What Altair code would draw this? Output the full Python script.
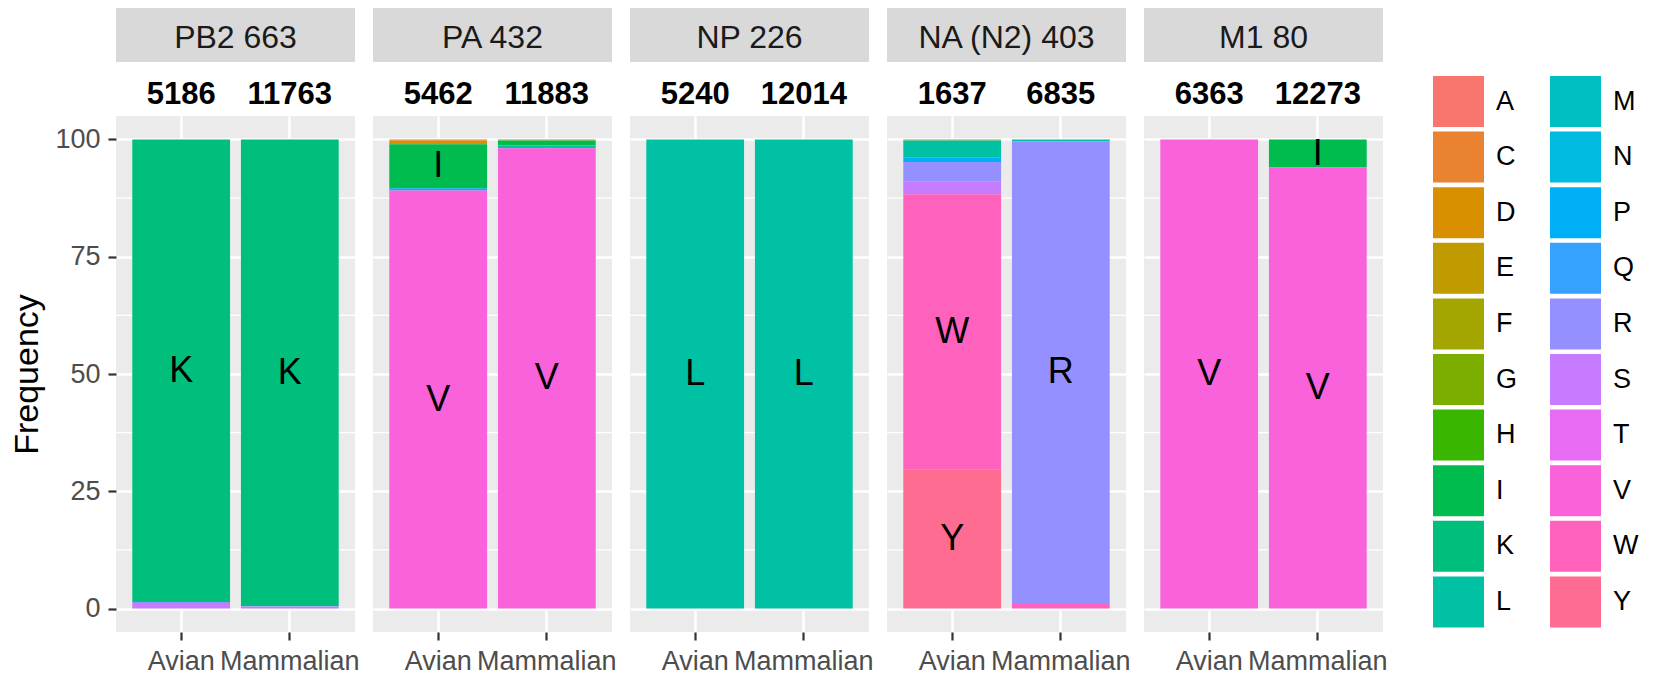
import altair as alt
import pandas as pd

# ---- data ----
residues = ["A", "C", "D", "E", "F", "G", "H", "I", "K", "L",
            "M", "N", "P", "Q", "R", "S", "T", "V", "W", "Y"]
residue_colors = ["#F8766D", "#EA8331", "#D89000", "#C09B00", "#A3A500",
                  "#7CAE00", "#39B600", "#00BB4E", "#00BF7D", "#00C1A3",
                  "#00BFC4", "#00BAE0", "#00B0F6", "#35A2FF", "#9590FF",
                  "#C77CFF", "#E76BF3", "#FA62DB", "#FF62BC", "#FF6C91"]

panels = ["PB2 663", "PA 432", "NP 226", "NA (N2) 403", "M1 80"]
hosts = ["Avian", "Mammalian"]
counts_avian = [5186, 5462, 5240, 1637, 6363]
counts_mammalian = [11763, 11883, 12014, 6835, 12273]

pb2_avian = {"K": 98.6, "R": 0.2, "S": 1.2}
pb2_mammalian = {"K": 99.5, "R": 0.1, "S": 0.4}
pa_avian = {"C": 0.3, "D": 0.7, "I": 9.4, "P": 0.5, "V": 89.1}
pa_mammalian = {"E": 0.2, "I": 1.1, "L": 0.6, "V": 98.1}
np_avian = {"L": 100.0}
np_mammalian = {"L": 100.0}
na_avian = {"E": 0.2, "L": 3.7, "P": 0.9, "R": 4.2, "S": 2.7, "W": 58.7, "Y": 29.6}
na_mammalian = {"L": 0.4, "R": 98.4, "W": 1.2}
m1_avian = {"V": 100.0}
m1_mammalian = {"I": 6.0, "V": 94.0}

y_ticks = [0, 25, 50, 75, 100]
minor_breaks = [12.5, 37.5, 62.5, 87.5]
label_threshold = 5

bar_freqs = [(pb2_avian, pb2_mammalian), (pa_avian, pa_mammalian),
             (np_avian, np_mammalian), (na_avian, na_mammalian),
             (m1_avian, m1_mammalian)]

# ---- build tables ----
rows = []
for p, (fa, fm) in zip(panels, bar_freqs):
    for h, f in zip(hosts, (fa, fm)):
        for r, v in f.items():
            rows.append({"panel": p, "host": h, "residue": r,
                         "idx": residues.index(r), "freq": v})
df = pd.DataFrame(rows)

count_rows = []
for p, ca, cm in zip(panels, counts_avian, counts_mammalian):
    count_rows.append({"panel": p, "host": "Avian", "count": str(ca)})
    count_rows.append({"panel": p, "host": "Mammalian", "count": str(cm)})
cdf = pd.DataFrame(count_rows)

W = 239
H = 516

xscale = alt.Scale(type="band", domain=hosts, paddingInner=0.1, paddingOuter=0.15)
yscale = alt.Scale(domain=[-5, 105], nice=False, zero=False)
cscale = alt.Scale(domain=residues, range=residue_colors)

xaxis = alt.Axis(labelAngle=0, labelPadding=8, bandPosition=0.5, grid=True,
                 ticks=True)

legend = alt.Legend(title=None, orient="none", legendX=1317, legendY=-40,
                    columns=2, values=residues, symbolType="square",
                    symbolSize=2601, symbolStrokeWidth=0, labelFontSize=27,
                    labelColor="black", labelOffset=12, rowPadding=4.6,
                    columnPadding=32, padding=0)


def make_panel(i, name):
    if i == 0:
        yaxis = alt.Axis(values=y_ticks, labelPadding=8, titlePadding=10, grid=True)
        ytitle = "Frequency"
    else:
        yaxis = alt.Axis(values=y_ticks, labels=False, ticks=False, grid=True)
        ytitle = None

    def yenc(field):
        return alt.Y(field, scale=yscale, axis=yaxis, title=ytitle)

    xenc = alt.X("host:N", scale=xscale, axis=xaxis, title=None)

    d = df[df.panel == name]
    stacked = alt.Chart(d).transform_stack(
        stack="freq", groupby=["host"],
        sort=[alt.SortField("idx", order="descending")],
        as_=["y0", "y1"])

    strip = alt.Chart(pd.DataFrame({"panel": [name]})).mark_rect(
        color="#D9D9D9").encode(
        x=alt.value(0), x2=alt.value(W), y=alt.value(-108), y2=alt.value(-54))
    strip_text = alt.Chart(pd.DataFrame({"panel": [name]})).mark_text(
        fontSize=32, color="#1A1A1A", baseline="middle").encode(
        x=alt.value(W / 2), y=alt.value(-78), text="panel:N")

    minor = alt.Chart(pd.DataFrame({"v": minor_breaks})).mark_rule(
        color="white", strokeWidth=1.3).encode(y=yenc("v:Q"))

    bars = stacked.mark_bar().encode(
        x=xenc, y=yenc("y0:Q"), y2="y1:Q",
        color=alt.Color("residue:N", scale=cscale, legend=legend))

    labels = stacked.transform_filter(
        alt.datum.freq >= label_threshold).transform_calculate(
        ymid="(datum.y0 + datum.y1) / 2").mark_text(
        fontSize=36, color="black", baseline="middle").encode(
        x=xenc, y=yenc("ymid:Q"), text="residue:N")

    counts = alt.Chart(cdf[cdf.panel == name]).mark_text(
        fontSize=31, fontWeight="bold", color="black", baseline="middle").encode(
        x=xenc, y=alt.value(-21), text="count:N")

    return alt.layer(strip, strip_text, minor, bars, labels, counts).properties(
        width=W, height=H)


chart = alt.hconcat(*[make_panel(i, p) for i, p in enumerate(panels)],
                    spacing=18, bounds="flush").properties(
    padding={"left": 2, "top": 0, "right": 0, "bottom": 0}
).configure(font="Liberation Sans").configure_view(
    fill="#EBEBEB", stroke="transparent", strokeWidth=0
).configure_axis(
    gridColor="white", gridWidth=2.5, domain=False, tickColor="#333333",
    tickWidth=2.2, tickSize=8, labelColor="#4D4D4D", labelFontSize=27,
    titleFontSize=34, titleColor="black", titleFontWeight="normal"
)

chart.save("out.html", embed_options={"renderer": "svg", "actions": False})
